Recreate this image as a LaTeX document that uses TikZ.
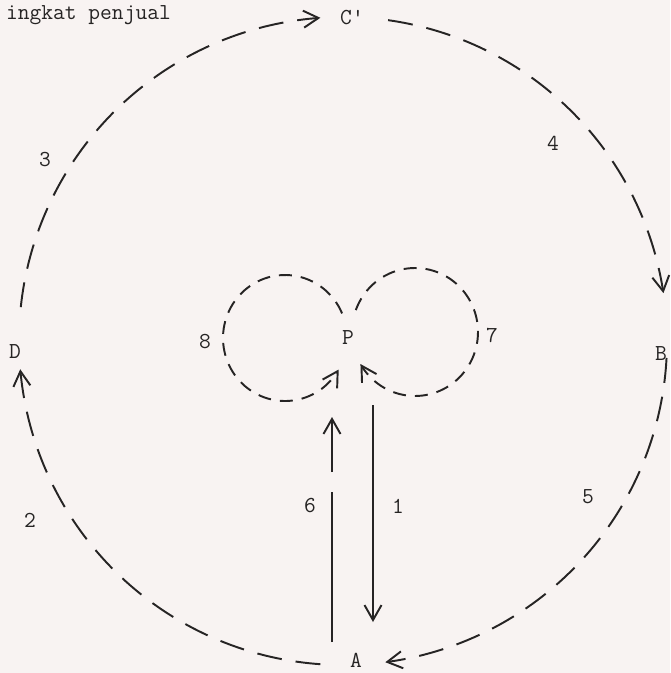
\documentclass[tikz,border=0pt]{standalone}
\usetikzlibrary{arrows.meta}
\definecolor{paper}{HTML}{F8F3F2}
\definecolor{ink}{HTML}{262424}
\begin{document}
\begin{tikzpicture}[x=0.2mm,y=-0.2mm,
  lbl/.style={font=\ttfamily\fontsize{13}{15}\selectfont, text=ink, inner sep=1pt},
  bigdash/.style={draw=ink, line width=1.1pt, dash pattern=on 5mm off 2.8mm},
  smalldash/.style={draw=ink, line width=1.1pt, dash pattern=on 2.6mm off 1.8mm},
  tip/.style={-{Straight Barb[length=3mm,width=3.4mm,line width=1.1pt]}}]
\fill[paper] (0,0) rectangle (670,673);
\useasboundingbox (0,0) rectangle (670,673);
% caption at the top
\node[lbl, anchor=base west] (cap) at (4,19) {ingkat penjual};
% labels
\node[lbl] (C) at (352,18) {C'};
\node[lbl] (B) at (661,354) {B};
\node[lbl] (D) at (15,352) {D};
\node[lbl] (A) at (356,660) {A};
\node[lbl] (P) at (348,338) {P};
\node[lbl] (n3) at (45,160) {3};
\node[lbl] (n4) at (553,143) {4};
\node[lbl] (n5) at (588,497) {5};
\node[lbl] (n2) at (30,520) {2};
\node[lbl] (n6) at (310,506) {6};
\node[lbl] (n1) at (398,506) {1};
\node[lbl] (n7) at (492,335) {7};
\node[lbl] (n8) at (205,342) {8};
% big circle arcs
\draw[bigdash, tip] plot[domain=186:266, samples=80] ({343+324*cos(\x)},{341+324*sin(\x)});
\draw[bigdash, tip] plot[domain=278:351.5, samples=80] ({343+324*cos(\x)},{341+324*sin(\x)});
\draw[bigdash, tip] plot[domain=3:82.5, samples=80] ({343+324*cos(\x)},{341+324*sin(\x)});
\draw[bigdash, tip] plot[domain=94:175, samples=80] ({343+324*cos(\x)},{341+324*sin(\x)});
% vertical arrows
\coordinate (p1s) at (373,405);
\coordinate (p1e) at (373,622);
\coordinate (p6s) at (332,642);
\coordinate (p6e) at (332,417);
\draw[draw=ink, line width=1.1pt, tip] (p1s) -- (p1e);
\draw[draw=ink, line width=1.1pt, dash pattern=on 30mm off 4mm, tip] (p6s) -- (p6e);
% loops around P
\draw[smalldash, tip] plot[domain=-23:-330, samples=90] ({285+62*cos(\x)},{338+63*sin(\x)});
\draw[smalldash, tip] plot[domain=200:510, samples=90] ({415+63*cos(\x)},{332+64*sin(\x)});
\end{tikzpicture}
\end{document}
